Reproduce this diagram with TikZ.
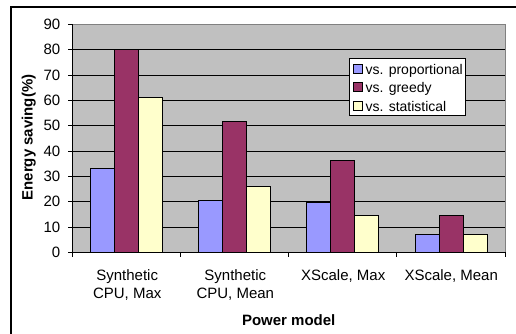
\documentclass[tikz,border=0pt]{standalone}
\usepackage{fontspec}
\setmainfont{Liberation Sans}
\definecolor{barblue}{HTML}{9999FF}
\definecolor{barred}{HTML}{993366}
\definecolor{baryellow}{HTML}{FFFFCC}
\definecolor{plotbg}{HTML}{C0C0C0}
\definecolor{plotedge}{HTML}{808080}
\begin{document}
\begin{tikzpicture}[x=1bp,y=-1bp,
  bar/.style={draw=black,line width=0.8bp},
  grid/.style={draw=black,line width=0.8bp},
  axistext/.style={font=\fontsize{15bp}{18bp}\selectfont,inner sep=0pt},
  titletext/.style={font=\fontsize{15bp}{18bp}\selectfont\bfseries,inner sep=0pt},
  legtext/.style={font=\fontsize{14bp}{17bp}\selectfont,inner sep=0pt,anchor=base west},
  swatch/.style={draw=black,line width=0.6bp}]
\useasboundingbox (0,0) rectangle (516,333);
\fill[white] (0,0) rectangle (516,333);
\draw[line width=1.6bp] (11,334) -- (11,7) -- (517,7);
% plot area
\fill[plotbg] (72.3,24.3) rectangle (505,252.3);
\draw[plotedge,line width=0.8bp] (72.3,24.3) -- (505,24.3) -- (505,252.3);
\foreach \v in {10,20,...,80}{
  \draw[grid] (72.3,{252.3-2.5333*\v}) -- (505,{252.3-2.5333*\v});
}
% axes
\draw[grid] (72.3,24.3) -- (72.3,252.3) -- (505,252.3);
\foreach \v in {0,10,...,90}{
  \draw[grid] (68.3,{252.3-2.5333*\v}) -- (72.3,{252.3-2.5333*\v});
  \node[axistext,anchor=east] (yl\v) at (60.5,{252.3-2.5333*\v}) {\v};
}
\foreach \i in {0,1,2,3,4}{
  \draw[grid] ({72.3+108.175*\i},252.3) -- ({72.3+108.175*\i},256.5);
}
% bars
\foreach \i/\a/\b/\c in {0/33.3/80/61, 1/20.4/51.5/26.2, 2/19.7/36.3/14.6, 3/6.9/14.6/6.9}{
  \pgfmathsetmacro{\L}{72.3+108.175*\i+18.1}
  \draw[bar,fill=barblue] (\L,252.3) rectangle ({\L+24},{252.3-2.5333*\a});
  \draw[bar,fill=barred] ({\L+24},252.3) rectangle ({\L+48},{252.3-2.5333*\b});
  \draw[bar,fill=baryellow] ({\L+48},252.3) rectangle ({\L+72},{252.3-2.5333*\c});
}
% category labels
\node[axistext,anchor=north,align=center] (c1) at (127.2,269) {Synthetic\\CPU, Max};
\node[axistext,anchor=north,align=center] (c2) at (235.3,269) {Synthetic\\CPU, Mean};
\node[axistext,anchor=north,align=center] (c3) at (343.2,269) {XScale, Max};
\node[axistext,anchor=north,align=center] (c4) at (451.2,269) {XScale, Mean};
% axis titles
\node[titletext,anchor=base] (xt) at (288.7,325.5) {Power model};
\node[titletext,anchor=base,rotate=90] (yt) at (32.6,137.5) {Energy saving(\%)};
% legend
\draw[fill=white,draw=black,line width=0.8bp] (349.2,58.5) rectangle (465,115);
\draw[swatch,fill=barblue] (353.3,64.2) rectangle (361.8,73.2);
\draw[swatch,fill=barred] (353.3,82.5) rectangle (361.8,91.5);
\draw[swatch,fill=baryellow] (353.3,101) rectangle (361.8,110);
\node[legtext] (l1) at (365.5,74) {vs. proportional};
\node[legtext] (l2) at (365.5,92.5) {vs. greedy};
\node[legtext] (l3) at (365.5,111) {vs. statistical};
\end{tikzpicture}
\end{document}
